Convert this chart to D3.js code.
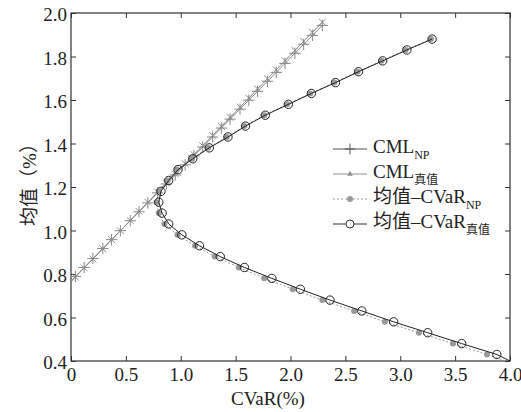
<!DOCTYPE html>
<html>
    <head>
        <meta charset="utf-8">
        <title>CML and mean-CVaR frontier</title>
        <script src="https://cdn.jsdelivr.net/npm/d3@7"></script>
    </head>

    <style>
        body {
            margin: 0;
            background: #fff;
        }
        .chart-text {
            font-family: "Liberation Serif", "Noto Sans CJK SC", serif;
            fill: #222;
        }
    </style>

    <body>
        <div class="viz-container"></div>
    </body>
    <script>

        var FONT = "'Liberation Serif', 'Noto Sans CJK SC', serif";

        //CML lines (CVaR %, mean %)
        var cmlCvar = [0.00, 0.04, 0.12, 0.20, 0.29, 0.37, 0.45, 0.54, 0.62, 0.70, 0.79, 0.87, 0.95, 1.04, 1.12,
                       1.20, 1.29, 1.37, 1.45, 1.54, 1.62, 1.70, 1.79, 1.87, 1.95, 2.04, 2.12, 2.20, 2.29];
        var cmlNpMean = [0.768, 0.789, 0.830, 0.871, 0.917, 0.958, 0.999, 1.045, 1.086, 1.127, 1.173, 1.214, 1.255, 1.302, 1.343,
                         1.384, 1.430, 1.471, 1.512, 1.558, 1.599, 1.640, 1.686, 1.727, 1.768, 1.815, 1.856, 1.897, 1.943];
        var cmlTrueMean = [0.765, 0.786, 0.828, 0.869, 0.916, 0.958, 0.999, 1.046, 1.088, 1.130, 1.177, 1.218, 1.260, 1.307, 1.349,
                           1.390, 1.437, 1.479, 1.520, 1.567, 1.609, 1.651, 1.698, 1.739, 1.781, 1.828, 1.870, 1.911, 1.958];

        //Mean-CVaR frontiers (same mean levels, different CVaR)
        var frontierMean = [1.88, 1.83, 1.78, 1.73, 1.68, 1.63, 1.58, 1.53, 1.48, 1.43, 1.38, 1.33, 1.28, 1.23, 1.18,
                            1.13, 1.08, 1.03, 0.98, 0.93, 0.88, 0.83, 0.78, 0.73, 0.68, 0.63, 0.58, 0.53, 0.48, 0.43, 0.40];
        var frontierTrueCvar = [3.29, 3.06, 2.84, 2.62, 2.41, 2.19, 1.98, 1.77, 1.59, 1.43, 1.26, 1.11, 0.975, 0.89, 0.82,
                                0.80, 0.83, 0.89, 1.01, 1.17, 1.36, 1.58, 1.83, 2.09, 2.36, 2.65, 2.94, 3.25, 3.56, 3.88, 4.00];
        var frontierNpCvar = [3.28, 3.05, 2.83, 2.61, 2.40, 2.18, 1.97, 1.76, 1.58, 1.42, 1.25, 1.10, 0.965, 0.88, 0.80,
                              0.78, 0.80, 0.85, 0.97, 1.13, 1.31, 1.53, 1.76, 2.02, 2.29, 2.58, 2.86, 3.17, 3.48, 3.79, 3.96];

        //Axis ticks
        var xTicks = [0, 0.5, 1.0, 1.5, 2.0, 2.5, 3.0, 3.5, 4.0];
        var yTicks = [0.4, 0.6, 0.8, 1.0, 1.2, 1.4, 1.6, 1.8, 2.0];

        var legendLabels = [
            { main: "CML", sub: "NP" },
            { main: "CML", sub: "真值" },
            { main: "均值–CVaR", sub: "NP" },
            { main: "均值–CVaR", sub: "真值" }
        ];

        //Basic sizing
        var width = 521;
        var height = 412;
        var margin = { top: 13, right: 11, bottom: 51, left: 71 };
        var plotW = width - margin.left - margin.right;
        var plotH = height - margin.top - margin.bottom;

        var svg = d3.select(".viz-container")
                    .append("svg")
                    .attr("width", width)
                    .attr("height", height);

        var x = d3.scaleLinear().domain([0, 4]).range([0, plotW]);
        var y = d3.scaleLinear().domain([0.4, 2.0]).range([plotH, 0]);

        var g = svg.append("g")
            .attr("transform", "translate(" + margin.left + "," + margin.top + ")");

        g.append("clipPath").attr("id", "plot-clip")
            .append("rect").attr("width", plotW).attr("height", plotH);

        //Axes, ticks pointing inward
        function styleAxis(sel) {
            sel.attr("font-family", null).attr("font-size", null);
            sel.select(".domain").remove();
            sel.selectAll(".tick line").attr("stroke", "#333").attr("stroke-width", 1);
            sel.selectAll("text")
                .attr("class", "chart-text")
                .style("font-family", FONT)
                .style("font-size", "19px")
                .attr("fill", "#222");
        }

        g.append("g")
            .attr("transform", "translate(0," + plotH + ")")
            .call(d3.axisBottom(x).tickValues(xTicks).tickSize(-5).tickPadding(7)
                .tickFormat(function(d) { return d === 0 ? "0" : d.toFixed(1); }))
            .call(styleAxis);

        g.append("g")
            .call(d3.axisLeft(y).tickValues(yTicks).tickSize(-5).tickPadding(4)
                .tickFormat(d3.format(".1f")))
            .call(styleAxis)
            .selectAll("text").attr("dy", "0.42em");

        g.append("g")
            .call(d3.axisTop(x).tickValues(xTicks).tickSize(-5).tickFormat(""))
            .call(styleAxis);

        g.append("g")
            .attr("transform", "translate(" + plotW + ",0)")
            .call(d3.axisRight(y).tickValues(yTicks).tickSize(-5).tickFormat(""))
            .call(styleAxis);

        //Frame
        g.append("rect")
            .attr("width", plotW)
            .attr("height", plotH)
            .attr("fill", "none")
            .attr("stroke", "#333")
            .attr("stroke-width", 1.2);

        //Axis titles
        svg.append("text")
            .attr("class", "chart-text")
            .attr("x", 268)
            .attr("y", 405)
            .attr("text-anchor", "middle")
            .style("font-family", FONT)
            .style("font-size", "19px")
            .text("CVaR(%)");

        svg.append("text")
            .attr("class", "chart-text")
            .attr("transform", "translate(36,180) rotate(-90)")
            .attr("text-anchor", "middle")
            .style("font-family", FONT)
            .style("font-size", "19px")
            .text("均值（%）");

        /**********************
        SERIES
        **********************/
        var plot = g.append("g").attr("clip-path", "url(#plot-clip)");

        var line = d3.line()
            .x(function(d) { return x(d[0]); })
            .y(function(d) { return y(d[1]); });

        var cmlNp = cmlCvar.map(function(c, i) { return [c, cmlNpMean[i]]; });
        var cmlTrue = cmlCvar.map(function(c, i) { return [c, cmlTrueMean[i]]; });
        var frontierNp = frontierMean.map(function(m, i) { return [frontierNpCvar[i], m]; });
        var frontierTrue = frontierMean.map(function(m, i) { return [frontierTrueCvar[i], m]; });

        var cmlGray = "#8f8f8f";
        var npGray = "#999";

        //CML 真值
        plot.append("path").datum(cmlTrue)
            .attr("d", line).attr("fill", "none")
            .attr("stroke", cmlGray).attr("stroke-width", 1);
        //CML NP
        plot.append("path").datum(cmlNp)
            .attr("d", line).attr("fill", "none")
            .attr("stroke", "#888").attr("stroke-width", 1);

        var plusSym = d3.symbol().type(d3.symbolPlus).size(44);
        var timesSym = d3.symbol().type(d3.symbolTimes).size(32);

        plot.selectAll(".cml-true-mark")
            .data(cmlTrue.slice(1))
            .enter().append("path")
            .attr("class", "cml-true-mark")
            .attr("transform", function(d) { return "translate(" + x(d[0]) + "," + y(d[1]) + ")"; })
            .attr("d", timesSym)
            .attr("fill", "none").attr("stroke", cmlGray).attr("stroke-width", 1);

        plot.selectAll(".cml-np-mark")
            .data(cmlNp.slice(1))
            .enter().append("path")
            .attr("class", "cml-np-mark")
            .attr("transform", function(d) { return "translate(" + x(d[0]) + "," + y(d[1]) + ")"; })
            .attr("d", plusSym)
            .attr("fill", "none").attr("stroke", "#888").attr("stroke-width", 1);

        //均值-CVaR NP: dotted, gray dots
        plot.append("path").datum(frontierNp)
            .attr("d", line).attr("fill", "none")
            .attr("stroke", npGray).attr("stroke-width", 1)
            .attr("stroke-dasharray", "2,2");

        plot.selectAll(".np-dot")
            .data(frontierNp.slice(0, -1))
            .enter().append("circle")
            .attr("class", "np-dot")
            .attr("cx", function(d) { return x(d[0]); })
            .attr("cy", function(d) { return y(d[1]); })
            .attr("r", 3)
            .attr("fill", npGray);

        //均值-CVaR 真值: solid, open circles
        plot.append("path").datum(frontierTrue)
            .attr("d", line).attr("fill", "none")
            .attr("stroke", "#222").attr("stroke-width", 1);

        plot.selectAll(".true-ring")
            .data(frontierTrue.slice(0, -1))
            .enter().append("circle")
            .attr("class", "true-ring")
            .attr("cx", function(d) { return x(d[0]); })
            .attr("cy", function(d) { return y(d[1]); })
            .attr("r", 4.2)
            .attr("fill", "none")
            .attr("stroke", "#222")
            .attr("stroke-width", 1);

        /**********************
        LEGEND
        **********************/
        var legend = svg.append("g").attr("transform", "translate(333,149)");
        var rowGap = 25;

        legendLabels.forEach(function(item, i) {
            var row = legend.append("g").attr("transform", "translate(0," + (i * rowGap) + ")");

            var ln = row.append("line")
                .attr("x1", 0).attr("x2", 34)
                .attr("y1", 0).attr("y2", 0)
                .attr("stroke-width", 1);

            if (i === 0) {
                ln.attr("stroke", "#555");
                row.append("path").attr("transform", "translate(17,0)")
                    .attr("d", d3.symbol().type(d3.symbolPlus).size(40))
                    .attr("fill", "none").attr("stroke", "#555");
            } else if (i === 1) {
                ln.attr("stroke", cmlGray);
                row.append("path").attr("transform", "translate(17,0)")
                    .attr("d", d3.symbol().type(d3.symbolTriangle).size(14))
                    .attr("fill", cmlGray);
            } else if (i === 2) {
                ln.attr("stroke", npGray).attr("stroke-dasharray", "2,2");
                row.append("circle").attr("cx", 17).attr("r", 3).attr("fill", npGray);
            } else {
                ln.attr("stroke", "#333");
                row.append("circle").attr("cx", 17).attr("r", 4)
                    .attr("fill", "#fff").attr("stroke", "#333");
            }

            var t = row.append("text")
                .attr("class", "chart-text")
                .attr("x", 40)
                .attr("y", 4)
                .style("font-family", FONT)
                .style("font-size", "19px")
                .text(item.main);

            t.append("tspan")
                .attr("dy", 6)
                .style("font-size", "12px")
                .text(item.sub);
        });

    </script>
</html>
